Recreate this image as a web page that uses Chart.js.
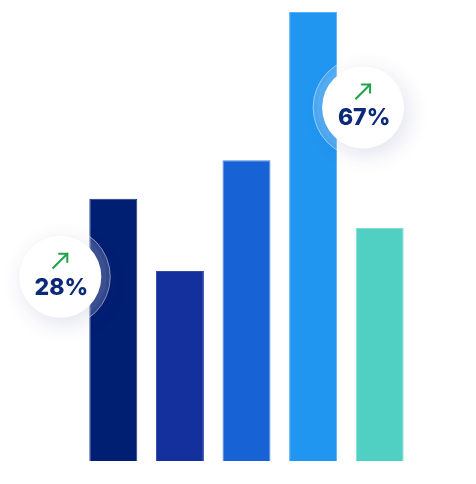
<!DOCTYPE html>
<html>
<head>
<meta charset="utf-8">
<script src="https://cdn.jsdelivr.net/npm/chart.js@4.4.1/dist/chart.umd.min.js"></script>
<style>
  html, body { margin: 0; padding: 0; background: #fff; }
  canvas { display: block; }
</style>
</head>
<body>
<canvas id="chart-bars" width="476" height="484"></canvas>
<script>
// data
var categories = ["A", "B", "C", "D", "E"];
var barValues = [58.4, 42.3, 67, 100, 51.9];
var barColors = ["#001e72", "#14309c", "#1763d5", "#2196f0", "#4fd0c2"];
var barEdges = ["#1a3585", "#3048a8", "#4a86e0", "#5ab2f4", "#7fddd3"];
var badgeLabels = ["28%", "67%"];
var badgeBars = [0, 3];

// badge position relative to its bar (center x, top y)
var badgeOffsets = [{ dx: -53, dy: 78 }, { dx: 50, dy: 95.5 }];

const badgePlugin = {
  id: "badges",
  afterDatasetsDraw(chart) {
    const ctx = chart.ctx;
    const meta = chart.getDatasetMeta(0);
    badgeBars.forEach((bi, i) => {
      const bar = meta.data[bi];
      const cx = bar.x + badgeOffsets[i].dx;
      const cy = bar.y + badgeOffsets[i].dy;

      // soft halo
      ctx.save();
      ctx.shadowColor = "rgba(60,70,150,0.12)";
      ctx.shadowBlur = 32;
      ctx.shadowOffsetX = 6;
      ctx.shadowOffsetY = 8;
      ctx.beginPath();
      ctx.arc(cx, cy, 46, 0, Math.PI * 2);
      ctx.fillStyle = "rgba(255,255,255,0.05)";
      ctx.fill();
      ctx.restore();

      // outer translucent ring
      ctx.save();
      ctx.beginPath();
      ctx.arc(cx, cy, 50, 0, Math.PI * 2);
      ctx.fillStyle = "rgba(255,255,255,0.2)";
      ctx.fill();
      ctx.lineWidth = 1;
      ctx.strokeStyle = "rgba(255,255,255,0.45)";
      ctx.stroke();
      ctx.restore();

      // white disc with soft shadow
      ctx.save();
      ctx.shadowColor = "rgba(40,50,130,0.14)";
      ctx.shadowBlur = 22;
      ctx.shadowOffsetX = 4;
      ctx.shadowOffsetY = 6;
      ctx.beginPath();
      ctx.arc(cx, cy, 41, 0, Math.PI * 2);
      ctx.fillStyle = "#ffffff";
      ctx.fill();
      ctx.restore();

      // green arrow
      ctx.save();
      ctx.strokeStyle = "#1fa34a";
      ctx.lineWidth = 2;
      ctx.lineCap = "square";
      const ax = cx, ay = cy - 16;
      ctx.beginPath();
      ctx.moveTo(ax - 7, ay + 7);
      ctx.lineTo(ax + 7, ay - 7);
      ctx.moveTo(ax - 1, ay - 7);
      ctx.lineTo(ax + 7, ay - 7);
      ctx.lineTo(ax + 7, ay + 1);
      ctx.stroke();
      ctx.restore();

      // label
      ctx.save();
      ctx.fillStyle = "#0d2a7a";
      ctx.font = "800 23px Inter, 'Open Sans', sans-serif";
      ctx.textAlign = "center";
      ctx.textBaseline = "middle";
      ctx.fillText(badgeLabels[i], cx + 1, cy + 11);
      ctx.restore();
    });
  }
};

function renderBars() {
  const ctx = document.getElementById("chart-bars")?.getContext("2d");
  if (!ctx) return;

  new Chart(ctx, {
    type: "bar",
    data: {
      labels: categories,
      datasets: [{
        data: barValues,
        backgroundColor: barColors,
        borderColor: barEdges,
        borderWidth: 1,
        borderSkipped: "bottom",
        categoryPercentage: 1,
        barPercentage: 0.72
      }]
    },
    options: {
      responsive: false,
      maintainAspectRatio: false,
      animation: false,
      layout: { padding: { left: 80, right: 63, top: 12, bottom: 23 } },
      plugins: { legend: { display: false }, tooltip: { enabled: false } },
      scales: {
        y: { min: 0, max: 100, display: false },
        x: { display: false }
      }
    },
    plugins: [badgePlugin]
  });
}

renderBars();
</script>
</body>
</html>
